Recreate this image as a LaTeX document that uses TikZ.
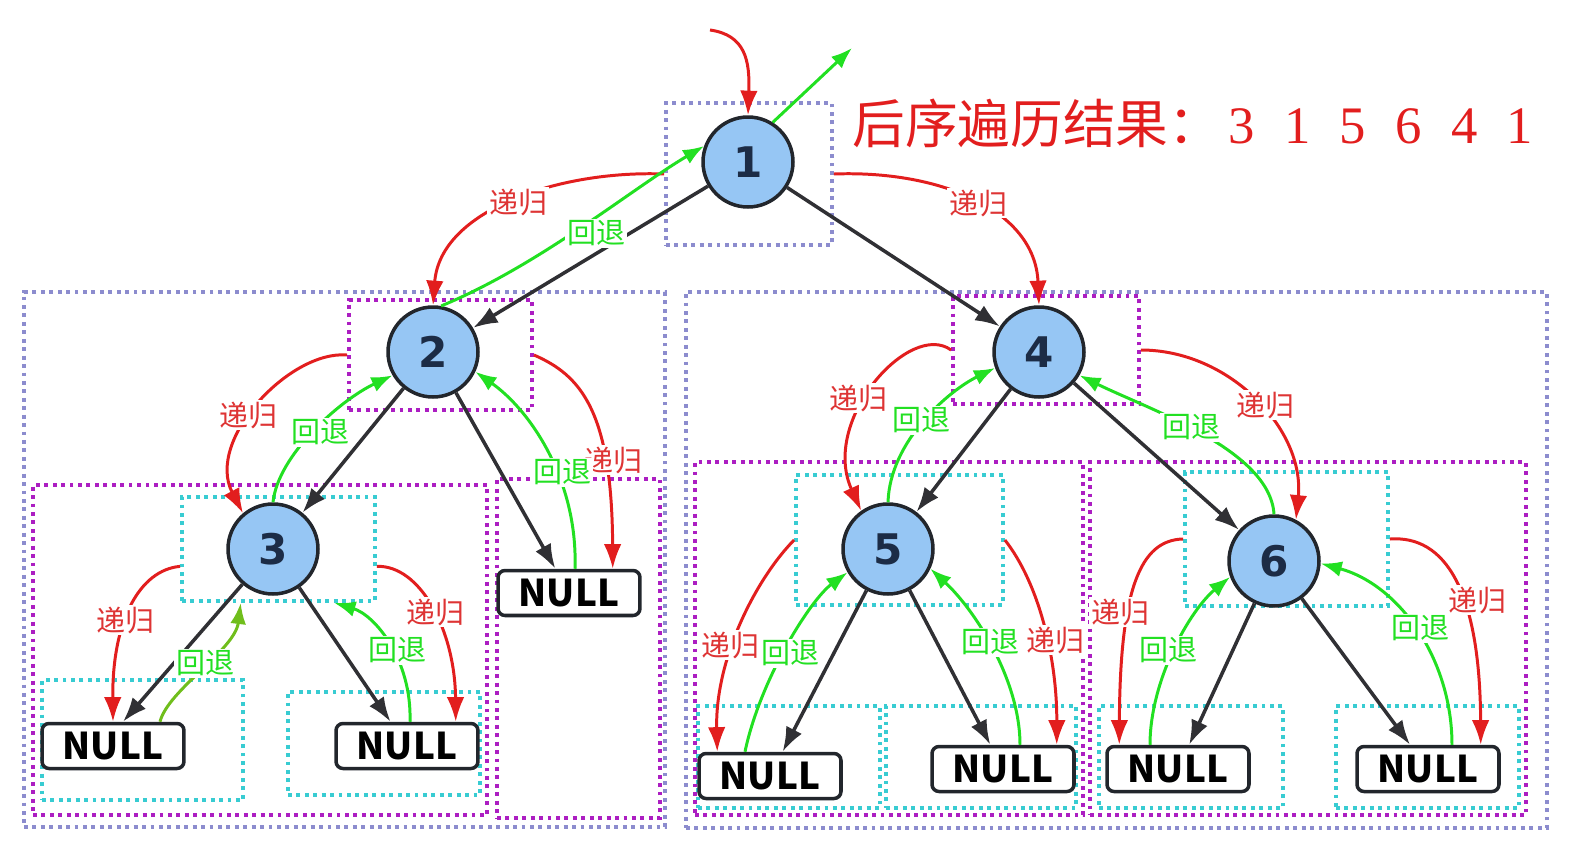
\documentclass[tikz,border=0pt]{standalone}
\usepackage{fontspec}
\newfontfamily\cjk{Noto Sans CJK SC}
\newfontfamily\numfont{DejaVu Sans}
\newfontfamily\digfont{Liberation Serif}
\usetikzlibrary{arrows.meta,positioning,fit}
\definecolor{recred}{RGB}{226,30,30}
\definecolor{labred}{RGB}{222,52,52}
\definecolor{backgreen}{RGB}{34,224,34}
\definecolor{olivegreen}{RGB}{112,190,28}
\definecolor{nodefill}{RGB}{150,198,244}
\definecolor{nodeline}{RGB}{34,38,44}
\definecolor{numtext}{RGB}{28,44,70}
\definecolor{edgegray}{RGB}{48,48,52}
\definecolor{frameblue}{RGB}{140,140,206}
\definecolor{framemag}{RGB}{172,30,194}
\definecolor{framecyan}{RGB}{56,204,210}

\begin{document}
\begin{tikzpicture}[
  x=0.02cm, y=-0.02cm,
  num/.style={circle, draw=nodeline, line width=2pt, fill=nodefill, minimum size=1.8cm, inner sep=0pt,
              text=numtext, font=\numfont\bfseries\fontsize{24}{24}\selectfont},
  nullbox/.style={draw=nodeline, line width=2pt, rounded corners=4pt, fill=white, minimum width=2.84cm,
                  minimum height=0.9cm, inner sep=0pt, font=\cjk\bfseries\fontsize{21}{21}\selectfont},
  tree/.style={draw=edgegray, line width=2pt, -{Latex[length=14pt,width=10pt]}},
  rec/.style={draw=recred, line width=1.7pt, -{Latex[length=14pt,width=10pt]}},
  back/.style={draw=backgreen, line width=1.7pt, -{Latex[length=12pt,width=9pt]}},
  rlab/.style={fill=white, inner sep=1pt, text=labred, font=\cjk\fontsize{16.5}{16.5}\selectfont},
  glab/.style={fill=white, inner sep=1pt, text=backgreen, font=\cjk\fontsize{16.5}{16.5}\selectfont},
  frame/.style={inner sep=0pt, line width=2.2pt, dash pattern=on 2.2pt off 2.6pt},
  outerbox/.style={frame, draw=frameblue},
  midbox/.style={frame, draw=framemag},
  leafbox/.style={frame, draw=framecyan}
]
\useasboundingbox (0,0) rectangle (1569,856);

% dotted frames
\node[outerbox, fit={(666,103) (832,245)}] (f1) {};
\node[outerbox, fit={(24,292) (665,827)}] (fl) {};
\node[outerbox, fit={(686,292) (1547,828)}] (fr) {};
\node[midbox, fit={(349,300) (532,410)}] (f2) {};
\node[midbox, fit={(953,296) (1139,404)}] (f4) {};
\node[midbox, fit={(33,485) (487,815)}] (fs3) {};
\node[midbox, fit={(497,479) (660,818)}] (fn2) {};
\node[midbox, fit={(695,462) (1083,815)}] (fs5) {};
\node[midbox, fit={(1090,462) (1526,815)}] (fs6) {};
\node[leafbox, fit={(182,497) (375,601)}] (f3) {};
\node[leafbox, fit={(796,475) (1003,605)}] (f5) {};
\node[leafbox, fit={(1185,472) (1388,606)}] (f6) {};
\node[leafbox, fit={(42,680) (243,800)}] (fl3) {};
\node[leafbox, fit={(288,692) (480,795)}] (fr3) {};
\node[leafbox, fit={(698,706) (880,808)}] (fl5) {};
\node[leafbox, fit={(886,706) (1076,808)}] (fr5) {};
\node[leafbox, fit={(1099,706) (1283,808)}] (fl6) {};
\node[leafbox, fit={(1336,706) (1519,808)}] (fr6) {};

% tree
\node[num] (n1) at (748,162) {1};
\node[num] (n2) at (433,352) {2};
\node[num] (n3) at (273,549) {3};
\node[num] (n4) at (1039,352) {4};
\node[num] (n5) at (888,549) {5};
\node[num] (n6) at (1274,561) {6};
\node[nullbox] (l3) at (113,746) {NULL};
\node[nullbox] (r3) at (407,746) {NULL};
\node[nullbox] (r2) at (569,593) {NULL};
\node[nullbox] (l5) at (770,776) {NULL};
\node[nullbox] (r5) at (1003,769) {NULL};
\node[nullbox] (l6) at (1178,769) {NULL};
\node[nullbox] (r6) at (1428,769) {NULL};

\draw[tree] (n1) -- (n2);
\draw[tree] (n1) -- (n4);
\draw[tree] (n2) -- (n3);
\draw[tree] (n2) -- (r2);
\draw[tree] (n3) -- ([xshift=0.2cm]l3.north);
\draw[tree] (n3) -- (r3);
\draw[tree] (n4) -- (n5);
\draw[tree] (n4) -- (n6);
\draw[tree] (n5) -- (l5);
\draw[tree] (n5) -- (r5);
\draw[tree] (n6) -- (l6);
\draw[tree] (n6) -- (r6);

% recursion in, return out
\coordinate (in) at (710,30);
\coordinate (out) at (852,48);
\draw[rec] (in) .. controls (745,35) and (750,60) .. (n1.north);
\draw[back] (n1.58) -- (out);

\draw[rec] (f1.west) .. controls (560,170) and (440,210) .. (n2.north);
\draw[back] (n2.80) .. controls (540,265) and (630,190) .. (n1.160);
\draw[rec] (f1.east) .. controls (940,170) and (1035,210) .. (n4.north);

\draw[rec] (f2.west) .. controls (290,350) and (205,440) .. (n3.130);
\draw[back] (n3.north) .. controls (278,455) and (340,400) .. (n2.210);
\draw[rec] (f2.east) .. controls (580,375) and (612,410) .. ([xshift=-0.58cm]r2.north east);
\draw[back] ([xshift=0.12cm]r2.north) .. controls (578,480) and (530,410) .. (n2.-25);

\draw[rec] (f3.190) .. controls (140,570) and (112,620) .. (l3.north);
\draw[back, draw=olivegreen] ([xshift=0.94cm]l3.north) .. controls (168,690) and (235,650) .. (f3.235);
\draw[rec] (f3.-10) .. controls (420,565) and (455,630) .. ([xshift=-0.48cm]r3.north east);
\draw[back] ([xshift=0.06cm]r3.north) .. controls (412,660) and (375,615) .. (f3.-44);

\draw[rec] (f4.west) .. controls (910,320) and (820,420) .. (n5.125);
\draw[back] (n5.north) .. controls (890,440) and (950,390) .. (n4.200);
\draw[rec] (f4.east) .. controls (1230,350) and (1305,430) .. (n6.62);
\draw[back] (n6.north) .. controls (1270,450) and (1150,410) .. (n4.-30);

\draw[rec] (f5.west) .. controls (755,580) and (715,660) .. ([xshift=0.4cm]l5.north west);
\draw[back] ([xshift=-0.5cm]l5.north) .. controls (760,680) and (810,600) .. (n5.210);
\draw[rec] (f5.east) .. controls (1040,585) and (1057,660) .. ([xshift=-0.38cm]r5.north east);
\draw[back] ([xshift=0.34cm]r5.north) .. controls (1020,680) and (975,610) .. (n5.-25);

\draw[rec] (f6.west) .. controls (1140,540) and (1120,590) .. ([xshift=0.28cm]l6.north west);
\draw[back] ([xshift=-0.56cm]l6.north) .. controls (1150,680) and (1190,610) .. (n6.200);
\draw[rec] (f6.east) .. controls (1445,535) and (1480,590) .. ([xshift=-0.4cm]r6.north east);
\draw[back] ([xshift=0.48cm]r6.north) .. controls (1452,660) and (1400,585) .. (n6.-3);

% labels
\node[rlab] (d1) at (518,202) {递归};
\node[rlab] (d2) at (978,203) {递归};
\node[rlab] (d3) at (248,415) {递归};
\node[rlab] (d4) at (613,460) {递归};
\node[rlab] (d5) at (125,620) {递归};
\node[rlab] (d6) at (435,612) {递归};
\node[rlab] (d7) at (858,398) {递归};
\node[rlab] (d8) at (1265,405) {递归};
\node[rlab] (d9) at (730,645) {递归};
\node[rlab] (d10) at (1055,640) {递归};
\node[rlab] (d11) at (1120,612) {递归};
\node[rlab] (d12) at (1477,600) {递归};
\node[glab] (h1) at (596,233) {回退};
\node[glab] (h2) at (320,432) {回退};
\node[glab] (h3) at (562,472) {回退};
\node[glab] (h4) at (205,663) {回退};
\node[glab] (h5) at (397,650) {回退};
\node[glab] (h6) at (921,420) {回退};
\node[glab] (h7) at (1191,427) {回退};
\node[glab] (h8) at (790,653) {回退};
\node[glab] (h9) at (990,642) {回退};
\node[glab] (h10) at (1168,650) {回退};
\node[glab] (h11) at (1420,628) {回退};

\node[anchor=west, inner sep=0pt, text=recred] (title) at (852,123)
  {{\cjk\fontsize{30}{32}\selectfont 后序遍历结果：}\hspace{4pt}{\digfont\fontsize{30}{32}\selectfont
   3\hspace{16.7pt}1\hspace{16.7pt}5\hspace{16.7pt}6\hspace{16.7pt}4\hspace{16.7pt}1}};
\end{tikzpicture}
\end{document}
